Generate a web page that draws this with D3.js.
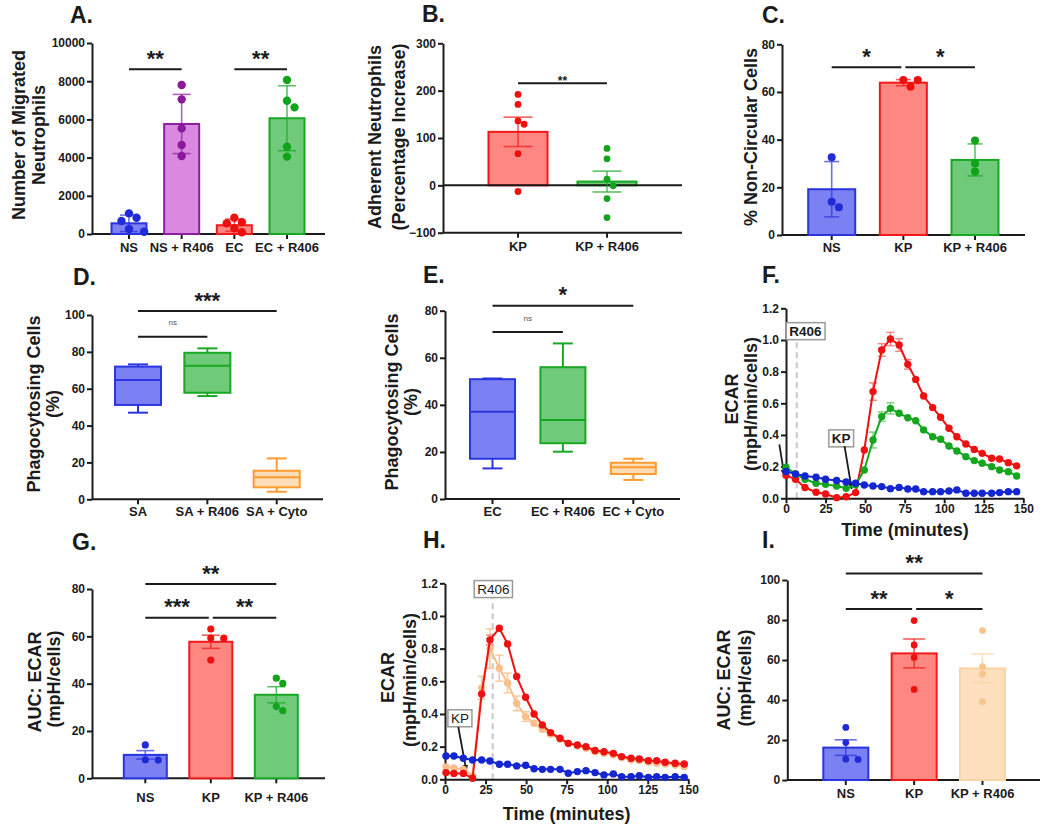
<!DOCTYPE html>
<html><head><meta charset="utf-8">
<script src="https://cdn.jsdelivr.net/npm/d3@7"></script>
<style>
body{margin:0;background:#fff;}
svg{display:block;}
text{font-family:"Liberation Sans",Arial,Helvetica,sans-serif;}
</style>
</head><body>
<svg id="chart" width="1050" height="835"></svg>
<script>
// ================= DATA =================
// Panel A
const aCategories = ["NS", "NS + R406", "EC", "EC + R406"];
const aMeans = [560, 5760, 460, 6060];
const aErrors = [430, 1550, 320, 1700];
const aPoints = [[1080, 850, 680, 260, 120], [7800, 7050, 5530, 4660, 4080], [850, 620, 560, 300, 90], [8060, 6980, 6630, 4570, 4050]];
const aTicks = [0, 2000, 4000, 6000, 8000, 10000];
// Panel B
const bCategories = ["KP", "KP + R406"];
const bMeans = [113, 8];
const bErrors = [31, 22];
const bPoints = [[192, 171, 136, 129, 67, -13], [78, 56, 13, -1, -28, -68]];
const bTicks = [-100, 0, 100, 200, 300];
// Panel C
const cCategories = ["NS", "KP", "KP + R406"];
const cMeans = [19.2, 63.9, 31.5];
const cErrors = [11.6, 1.3, 6.7];
const cPoints = [[32.6, 11.6, 14], [62.2, 65, 65], [39.6, 30, 26.6]];
const cTicks = [0, 20, 40, 60, 80];
// Panel D (box plots)
const dCategories = ["SA", "SA + R406", "SA + Cyto"];
const dMin = [47, 56, 4.1];
const dQ1 = [51.2, 57.8, 6.5];
const dMedian = [64.7, 72.5, 11.9];
const dQ3 = [72, 79.5, 15.5];
const dMax = [73.2, 81.9, 22.2];
const dTicks = [0, 20, 40, 60, 80, 100];
// Panel E (box plots)
const eCategories = ["EC", "EC + R406", "EC + Cyto"];
const eMin = [13, 20.1, 8.1];
const eQ1 = [17.1, 23.7, 10.6];
const eMedian = [37.1, 33.6, 13.5];
const eQ3 = [50.9, 56, 15.4];
const eMax = [51.2, 66.1, 17.1];
const eTicks = [0, 20, 40, 60, 80];
// Panel F (time courses)
const fTime = [0, 6, 12, 19, 25, 32, 38, 44, 49.5, 55, 60.5, 66, 71.5, 77, 82, 87, 92.7, 97.7, 103, 108, 113.7, 119, 124, 130, 135, 140.5, 145.8];
const fKP = [0.145, 0.12, 0.068, 0.038, 0.027, 0.004, 0.01, 0.036, 0.305, 0.674, 0.937, 1.006, 0.968, 0.846, 0.751, 0.646, 0.573, 0.512, 0.442, 0.389, 0.343, 0.309, 0.284, 0.253, 0.248, 0.225, 0.205];
const fKPerr = [0.01, 0.01, 0.01, 0.01, 0.01, 0.01, 0.01, 0.01, 0.02, 0.055, 0.04, 0.042, 0.04, 0.03, 0.02, 0.02, 0.015, 0.01, 0.01, 0.01, 0.01, 0.01, 0.01, 0.01, 0.01, 0.01, 0.01];
const fKPR406 = [0.196, 0.154, 0.12, 0.095, 0.088, 0.078, 0.063, 0.085, 0.179, 0.368, 0.516, 0.568, 0.537, 0.509, 0.49, 0.432, 0.389, 0.373, 0.33, 0.299, 0.263, 0.238, 0.221, 0.2, 0.179, 0.168, 0.141];
const fKPR406err = [0.02, 0.01, 0.01, 0.01, 0.01, 0.01, 0.01, 0.01, 0.02, 0.05, 0.03, 0.035, 0.02, 0.015, 0.01, 0.01, 0.01, 0.01, 0.01, 0.01, 0.01, 0.01, 0.01, 0.01, 0.01, 0.01, 0.01];
const fNS = [0.17, 0.154, 0.141, 0.133, 0.12, 0.112, 0.103, 0.095, 0.084, 0.078, 0.074, 0.061, 0.069, 0.059, 0.059, 0.042, 0.042, 0.042, 0.046, 0.053, 0.032, 0.032, 0.032, 0.032, 0.036, 0.042, 0.042];
const fNSerr = fNS.map(() => 0.005);
// Panel G
const gCategories = ["NS", "KP", "KP + R406"];
const gMeans = [9.9, 57.7, 35.3];
const gErrors = [1.8, 2.8, 3.4];
const gPoints = [[14.1, 7.8, 7.7], [63.1, 59.2, 59.3, 50], [40.1, 42.3, 28.6, 30.3]];
const gTicks = [0, 20, 40, 60, 80];
// Panel H (time courses)
const hTime = [0.6, 5.5, 11.3, 17, 22.6, 27.7, 33.5, 38.6, 44.2, 49.7, 54.9, 60, 65.1, 70.9, 76, 81.6, 86.9, 92.5, 98, 103.8, 108.9, 114.7, 119.8, 125.4, 130.5, 135.7, 141.9, 147.5];
const hKP = [0.041, 0.036, 0.036, 0.006, 0.522, 0.853, 0.925, 0.829, 0.629, 0.502, 0.4, 0.333, 0.286, 0.251, 0.22, 0.21, 0.2, 0.176, 0.169, 0.159, 0.139, 0.129, 0.124, 0.114, 0.114, 0.104, 0.098, 0.094];
const hKPerr = [0.01, 0.01, 0.01, 0.01, 0.02, 0.03, 0.02, 0.02, 0.02, 0.01, 0.01, 0.01, 0.01, 0.01, 0.01, 0.01, 0.01, 0.01, 0.01, 0.01, 0.01, 0.01, 0.01, 0.01, 0.01, 0.01, 0.01, 0.01];
const hKPR406 = [0.075, 0.07, 0.06, 0.02, 0.56, 0.8, 0.68, 0.59, 0.465, 0.384, 0.343, 0.306, 0.276, 0.245, 0.22, 0.204, 0.19, 0.169, 0.159, 0.149, 0.133, 0.118, 0.114, 0.104, 0.098, 0.094, 0.088, 0.078];
const hKPR406err = [0.01, 0.01, 0.01, 0.01, 0.07, 0.12, 0.08, 0.06, 0.045, 0.03, 0.02, 0.02, 0.015, 0.01, 0.01, 0.01, 0.01, 0.01, 0.01, 0.01, 0.01, 0.01, 0.01, 0.01, 0.01, 0.01, 0.01, 0.01];
const hNS = [0.143, 0.143, 0.129, 0.118, 0.118, 0.112, 0.092, 0.092, 0.082, 0.086, 0.065, 0.061, 0.061, 0.061, 0.037, 0.047, 0.053, 0.041, 0.027, 0.033, 0.016, 0.016, 0.022, 0.012, 0.016, 0.012, 0.016, 0.012];
const hNSerr = hNS.map(() => 0.005);
// Panel I
const iCategories = ["NS", "KP", "KP + R406"];
const iMeans = [16.2, 63.3, 55.8];
const iErrors = [3.9, 7.2, 7.2];
const iPoints = [[26.3, 18.7, 10.3, 10.4], [79.7, 67.5, 61.3, 45.3], [74.7, 56.7, 53, 39.2]];
const iTicks = [0, 20, 40, 60, 80, 100];
// shared time-course ticks
const timeTicks = [0, 25, 50, 75, 100, 125, 150];
const ecarTicks = [0, 0.2, 0.4, 0.6, 0.8, 1.0, 1.2];

// ================= STYLE =================
const FONT = '"Liberation Sans", Arial, Helvetica, sans-serif';
const INK = '#1b1b1b';
const BLUE = {fill: '#7b80f2', stroke: '#2a34e0', dot: '#1e2bd6'};
const PURPLE = {fill: '#d98ae0', stroke: '#8d1e9e', dot: '#8a1a9a'};
const RED = {fill: '#ff8782', stroke: '#f01a1a', dot: '#ee1010'};
const GREEN = {fill: '#6fcb7a', stroke: '#19a824', dot: '#12a31c'};
const ORANGE = {fill: '#fedcb6', stroke: '#ff9a2e', dot: '#ff9a2e'};
const PEACH = {fill: '#fee0bf', stroke: '#fcd3a7', dot: '#f9c38d'};
const LINE_RED = {line: '#ee1111', err: '#f58a8a'};
const LINE_GREEN = {line: '#15a51e', err: '#7fd185'};
const LINE_BLUE = {line: '#1326cf', err: '#7f8ae6'};
const LINE_ORANGE = {line: '#f9bf8a', err: '#f9c89a'};

const svg = d3.select('#chart');
svg.append('defs').append('marker').attr('id', 'arrow')
  .attr('viewBox', '0 0 10 10').attr('refX', 9).attr('refY', 5)
  .attr('markerWidth', 7).attr('markerHeight', 7).attr('orient', 'auto-start-reverse')
  .attr('markerUnits', 'userSpaceOnUse')
  .append('path').attr('d', 'M0,1 L10,5 L0,9 z').attr('fill', INK);

function txt(x, y, s, o = {}) {
  const t = svg.append('text').attr('x', x).attr('y', y).text(s)
    .attr('font-family', FONT)
    .attr('font-size', o.size || 13).attr('font-weight', o.weight || 'bold')
    .attr('text-anchor', o.anchor || 'middle').attr('fill', o.fill || INK);
  if (o.rotate) t.attr('transform', `rotate(-90,${x},${y})`);
  return t;
}
function styleAxis(g, size) {
  g.attr('font-family', FONT).attr('font-size', size).attr('font-weight', 'bold');
  g.select('.domain').attr('stroke', INK).attr('stroke-width', 2);
  g.selectAll('.tick line').attr('stroke', INK).attr('stroke-width', 2);
  g.selectAll('.tick text').attr('fill', INK);
}
function yAxis(y, x0, ticks, fmt) {
  const ax = d3.axisLeft(y).tickValues(ticks).tickSize(5).tickSizeOuter(0).tickPadding(2)
    .tickFormat(fmt || d3.format('d'));
  const g = svg.append('g').attr('transform', `translate(${x0},0)`).call(ax);
  styleAxis(g, 12);
  return g;
}
function catXAxis(x, p) {
  svg.append('line').attr('x1', p.left).attr('x2', p.right).attr('y1', p.bottom).attr('y2', p.bottom)
    .attr('stroke', INK).attr('stroke-width', 2);
  p.cats.forEach(c => {
    svg.append('line').attr('x1', x(c)).attr('x2', x(c)).attr('y1', p.bottom).attr('y2', p.bottom + 5)
      .attr('stroke', INK).attr('stroke-width', 2);
    txt(x(c), p.bottom + p.labelDy, c, {size: 13});
  });
}
function panelText(p) {
  txt(p.titleX, p.titleY, p.title, {size: 23, anchor: 'start'});
  p.ylabels.forEach(l => txt(l[1], l[2], l[0], {size: 18, rotate: true}));
}
// simple deterministic dodge (beeswarm) for scatter points on bars
function swarm(values, y, r) {
  const idx = values.map((v, i) => ({v, i, py: y(v)})).sort((a, b) => a.py - b.py);
  const placed = [];
  const off = new Array(values.length).fill(0);
  const step = 2 * r * 0.9;
  idx.forEach(d => {
    const cands = [0];
    for (let k = 1; k < 8; k++) cands.push(k * step, -k * step);
    for (const c of cands) {
      if (placed.every(q => Math.hypot(q.x - c, q.y - d.py) >= 2 * r)) {
        off[d.i] = c; placed.push({x: c, y: d.py}); break;
      }
    }
  });
  return off;
}
function sigLines(x, y, p) {
  (p.sig || []).forEach(s => {
    const x1 = x(p.cats[s.from]) + (s.gapL ? 2 : 0);
    const x2 = x(p.cats[s.to]) - (s.gapR ? 2 : 0);
    const yy = y(s.at);
    svg.append('line').attr('x1', x1).attr('x2', x2).attr('y1', yy).attr('y2', yy)
      .attr('stroke', INK).attr('stroke-width', 2);
    const cx = (x1 + x2) / 2;
    if (s.label === 'ns') txt(cx, yy - 11.5, 'ns', {size: 8, weight: 'normal', fill: '#555'});
    else if (s.small) txt(cx, yy + 1.6, s.label, {size: 12});
    else txt(cx, yy - 3.4, s.label, {size: 22});
  });
}

function barPanel(p) {
  const y = d3.scaleLinear().domain(p.yDomain).range([p.bottom, p.top]);
  const x = d3.scalePoint().domain(p.cats).range(p.centers);
  panelText(p);
  yAxis(y, p.left, p.yTicks);
  catXAxis(x, p);
  const base = y(0);
  const rows = p.cats.map((c, i) => ({c, m: p.means[i], e: p.errs[i], pts: p.points[i], col: p.colors[i]}));
  svg.append('g').selectAll('rect').data(rows).join('rect')
    .attr('x', d => x(d.c) - p.barW / 2).attr('width', p.barW)
    .attr('y', d => Math.min(y(d.m), base)).attr('height', d => Math.abs(base - y(d.m)))
    .attr('fill', d => d.col.fill).attr('stroke', d => d.col.stroke).attr('stroke-width', 2);
  if (p.zeroLine) svg.append('line').attr('x1', p.left).attr('x2', p.right).attr('y1', base).attr('y2', base)
    .attr('stroke', INK).attr('stroke-width', 2);
  rows.forEach(d => {
    const cx = x(d.c), y1 = y(d.m - d.e), y2 = y(d.m + d.e);
    const eg = svg.append('g').attr('stroke', d.col.stroke).attr('stroke-width', 1.6).attr('stroke-opacity', 0.7);
    eg.append('line').attr('x1', cx).attr('x2', cx).attr('y1', y1).attr('y2', y2);
    [y1, y2].forEach(yy => eg.append('line').attr('x1', cx - p.capW / 2).attr('x2', cx + p.capW / 2).attr('y1', yy).attr('y2', yy));
    const off = swarm(d.pts, y, p.r);
    svg.append('g').selectAll('circle').data(d.pts).join('circle')
      .attr('cx', (v, k) => cx + off[k]).attr('cy', v => y(v)).attr('r', p.r)
      .attr('fill', d.col.dot);
  });
  sigLines(x, y, p);
}

function boxPanel(p) {
  const y = d3.scaleLinear().domain(p.yDomain).range([p.bottom, p.top]);
  const x = d3.scalePoint().domain(p.cats).range(p.centers);
  panelText(p);
  yAxis(y, p.left, p.yTicks);
  catXAxis(x, p);
  p.cats.forEach((c, i) => {
    const col = p.colors[i], cx = x(c), w = p.boxW;
    const g = svg.append('g').attr('stroke', col.stroke).attr('stroke-width', 2);
    g.append('line').attr('x1', cx).attr('x2', cx).attr('y1', y(p.min[i])).attr('y2', y(p.q1[i]));
    g.append('line').attr('x1', cx).attr('x2', cx).attr('y1', y(p.q3[i])).attr('y2', y(p.max[i]));
    [p.min[i], p.max[i]].forEach(v => g.append('line').attr('x1', cx - p.capW / 2).attr('x2', cx + p.capW / 2).attr('y1', y(v)).attr('y2', y(v)));
    g.append('rect').attr('x', cx - w / 2).attr('width', w).attr('y', y(p.q3[i])).attr('height', y(p.q1[i]) - y(p.q3[i]))
      .attr('fill', col.fill);
    g.append('line').attr('x1', cx - w / 2).attr('x2', cx + w / 2).attr('y1', y(p.median[i])).attr('y2', y(p.median[i]));
  });
  sigLines(x, y, p);
}

function linePanel(p) {
  const x = d3.scaleLinear().domain([0, 150]).range([p.left, p.right]);
  const y = d3.scaleLinear().domain([0, 1.2]).range([p.bottom, p.top]);
  panelText(p);
  const gx = svg.append('g').attr('transform', `translate(0,${p.bottom})`)
    .call(d3.axisBottom(x).tickValues(timeTicks).tickSize(5).tickSizeOuter(0).tickPadding(1.5));
  styleAxis(gx, 12);
  yAxis(y, p.left, ecarTicks, d3.format('.1f'));
  txt(p.xLabel[0], p.xLabel[1], 'Time (minutes)', {size: 18});
  const a = p.r406;
  const box = (cx, cy, s, bold) => {
    const t = txt(x(cx), y(cy), s, {size: 13.5, weight: bold ? 'bold' : 'normal'}).attr('dy', '0.35em');
    const bb = t.node().getBBox();
    svg.insert('rect', () => t.node()).attr('x', bb.x - 3).attr('y', bb.y - 1).attr('width', bb.width + 6).attr('height', bb.height + 2)
      .attr('fill', '#fff').attr('stroke', '#9a9a9a').attr('stroke-width', 1.5);
    return bb;
  };
  const rb = box(a.labelT, a.labelV, 'R406', p.bold);
  svg.insert('line', 'text').attr('x1', x(a.t)).attr('x2', x(a.t)).attr('y1', y(0)).attr('y2', rb.y + rb.height + 1)
    .attr('stroke', '#c8c8c8').attr('stroke-width', 2).attr('stroke-dasharray', '6,4');
  box(p.kp.labelT, p.kp.labelV, 'KP', p.bold);
  p.arrows.forEach(ar => svg.append('line').attr('x1', x(ar[0])).attr('y1', y(ar[1])).attr('x2', x(ar[2])).attr('y2', y(ar[3]))
    .attr('stroke', INK).attr('stroke-width', 1.8).attr('marker-end', 'url(#arrow)'));
  p.series.forEach(s => {
    const pts = p.time.map((t, i) => ({t, v: s.v[i], e: s.e[i]}));
    const eg = svg.append('g').attr('stroke', s.col.err).attr('stroke-width', 1.5);
    pts.forEach(d => {
      if (y(d.v - d.e) - y(d.v + d.e) < 7) return;
      eg.append('line').attr('x1', x(d.t)).attr('x2', x(d.t)).attr('y1', y(d.v - d.e)).attr('y2', y(d.v + d.e));
      [d.v - d.e, d.v + d.e].forEach(v => eg.append('line').attr('x1', x(d.t) - 4).attr('x2', x(d.t) + 4).attr('y1', y(v)).attr('y2', y(v)));
    });
    svg.append('path').datum(pts).attr('d', d3.line().x(d => x(d.t)).y(d => y(d.v)))
      .attr('fill', 'none').attr('stroke', s.col.line).attr('stroke-width', 2);
    svg.append('g').selectAll('circle').data(pts).join('circle')
      .attr('cx', d => x(d.t)).attr('cy', d => y(d.v)).attr('r', 3.7).attr('fill', s.col.line);
  });
}

// ================= PANELS =================
barPanel({title: 'A.', titleX: 70, titleY: 23, left: 92, right: 325, top: 43, bottom: 234,
  yDomain: [0, 10000], yTicks: aTicks, cats: aCategories, centers: [129, 287],
  means: aMeans, errs: aErrors, points: aPoints, colors: [BLUE, PURPLE, RED, GREEN],
  barW: 35, capW: 18, r: 4.2, labelDy: 18,
  ylabels: [['Number of Migrated', 25.4, 135], ['Neutrophils', 45.4, 135]],
  sig: [{from: 0, to: 1, at: 8620, label: '**'}, {from: 2, to: 3, at: 8620, label: '**'}]});

barPanel({title: 'B.', titleX: 422, titleY: 22, left: 443, right: 682, top: 43.3, bottom: 232.7,
  yDomain: [-100, 300], yTicks: bTicks, cats: bCategories, centers: [518, 607], zeroLine: true,
  means: bMeans, errs: bErrors, points: bPoints, colors: [RED, GREEN],
  barW: 59, capW: 29, r: 3.4, labelDy: 18,
  ylabels: [['Adherent Neutrophils', 381, 137], ['(Percentage Increase)', 405, 137]],
  sig: [{from: 0, to: 1, at: 215.4, label: '**', small: true}]});

barPanel({title: 'C.', titleX: 762, titleY: 22.5, left: 782, right: 1025, top: 44.3, bottom: 235,
  yDomain: [0, 80], yTicks: cTicks, cats: cCategories, centers: [831.7, 975],
  means: cMeans, errs: cErrors, points: cPoints, colors: [BLUE, RED, GREEN],
  barW: 47, capW: 15, r: 4, labelDy: 16.7,
  ylabels: [['% Non-Circular Cells', 757, 137]],
  sig: [{from: 0, to: 1, at: 70.35, label: '*', gapR: true}, {from: 1, to: 2, at: 70.35, label: '*', gapL: true}]});

boxPanel({title: 'D.', titleX: 73, titleY: 285, left: 92, right: 323, top: 315, bottom: 499.3,
  yDomain: [0, 100], yTicks: dTicks, cats: dCategories, centers: [138, 276.7],
  min: dMin, q1: dQ1, median: dMedian, q3: dQ3, max: dMax, colors: [BLUE, GREEN, ORANGE],
  boxW: 46, capW: 20, labelDy: 16.7,
  ylabels: [['Phagocytosing Cells', 40, 404], ['(%)', 59, 404]],
  sig: [{from: 0, to: 2, at: 102.2, label: '***'}, {from: 0, to: 1, at: 88.2, label: 'ns'}]});

boxPanel({title: 'E.', titleX: 423, titleY: 282.7, left: 445, right: 680, top: 310.7, bottom: 499,
  yDomain: [0, 80], yTicks: eTicks, cats: eCategories, centers: [492.5, 633.3],
  min: eMin, q1: eQ1, median: eMedian, q3: eQ3, max: eMax, colors: [BLUE, GREEN, ORANGE],
  boxW: 45, capW: 20, labelDy: 16.7,
  ylabels: [['Phagocytosing Cells', 398, 402], ['(%)', 417, 402]],
  sig: [{from: 0, to: 2, at: 82.1, label: '*'}, {from: 0, to: 1, at: 70.95, label: 'ns'}]});

linePanel({title: 'F.', titleX: 762, titleY: 282.7, left: 786, right: 1023.3, top: 308.3, bottom: 498.3,
  time: fTime, bold: true, xLabel: [905, 535.5],
  ylabels: [['ECAR', 738, 399], ['(mpH/min/cells)', 757, 404]],
  r406: {t: 6.8, labelT: 12.3, labelV: 1.057}, kp: {labelT: 34.9, labelV: 0.38},
  arrows: [[-4.2, 0.34, -1.0, 0.14], [37, 0.33, 41.5, 0.06]],
  series: [{v: fKP, e: fKPerr, col: LINE_RED}, {v: fKPR406, e: fKPR406err, col: LINE_GREEN}, {v: fNS, e: fNSerr, col: LINE_BLUE}]});

barPanel({title: 'G.', titleX: 72, titleY: 550, left: 92, right: 325, top: 589, bottom: 778.3,
  yDomain: [0, 80], yTicks: gTicks, cats: gCategories, centers: [145.3, 276.3],
  means: gMeans, errs: gErrors, points: gPoints, colors: [BLUE, RED, GREEN],
  barW: 43, capW: 18, r: 3.6, labelDy: 24,
  ylabels: [['AUC: ECAR', 40.5, 682], ['(mpH/cells)', 60, 679]],
  sig: [{from: 0, to: 2, at: 82.1, label: '**'}, {from: 0, to: 1, at: 67.9, label: '***', gapR: true}, {from: 1, to: 2, at: 67.9, label: '**', gapL: true}]});

linePanel({title: 'H.', titleX: 423, titleY: 548.3, left: 445, right: 688.3, top: 583.3, bottom: 779.3,
  time: hTime, bold: false, xLabel: [566.7, 819.5],
  ylabels: [['ECAR', 394, 677.5], ['(mpH/min/cells)', 416, 680]],
  r406: {t: 29.4, labelT: 29.8, labelV: 1.166}, kp: {labelT: 9.2, labelV: 0.375},
  arrows: [[8.2, 0.32, 13.2, 0.05]],
  series: [{v: hKPR406, e: hKPR406err, col: LINE_ORANGE}, {v: hKP, e: hKPerr, col: LINE_RED}, {v: hNS, e: hNSerr, col: LINE_BLUE}]});

barPanel({title: 'I.', titleX: 762, titleY: 548.3, left: 787.3, right: 1040, top: 580, bottom: 780,
  yDomain: [0, 100], yTicks: iTicks, cats: iCategories, centers: [845.8, 982.5],
  means: iMeans, errs: iErrors, points: iPoints, colors: [BLUE, RED, PEACH],
  barW: 45, capW: 22, r: 3.4, labelDy: 18.3,
  ylabels: [['AUC: ECAR', 730, 680], ['(mpH/cells)', 751, 678]],
  sig: [{from: 0, to: 2, at: 103.3, label: '**'}, {from: 0, to: 1, at: 85.5, label: '**', gapR: true}, {from: 1, to: 2, at: 85.5, label: '*', gapL: true}]});
</script>
</body></html>
